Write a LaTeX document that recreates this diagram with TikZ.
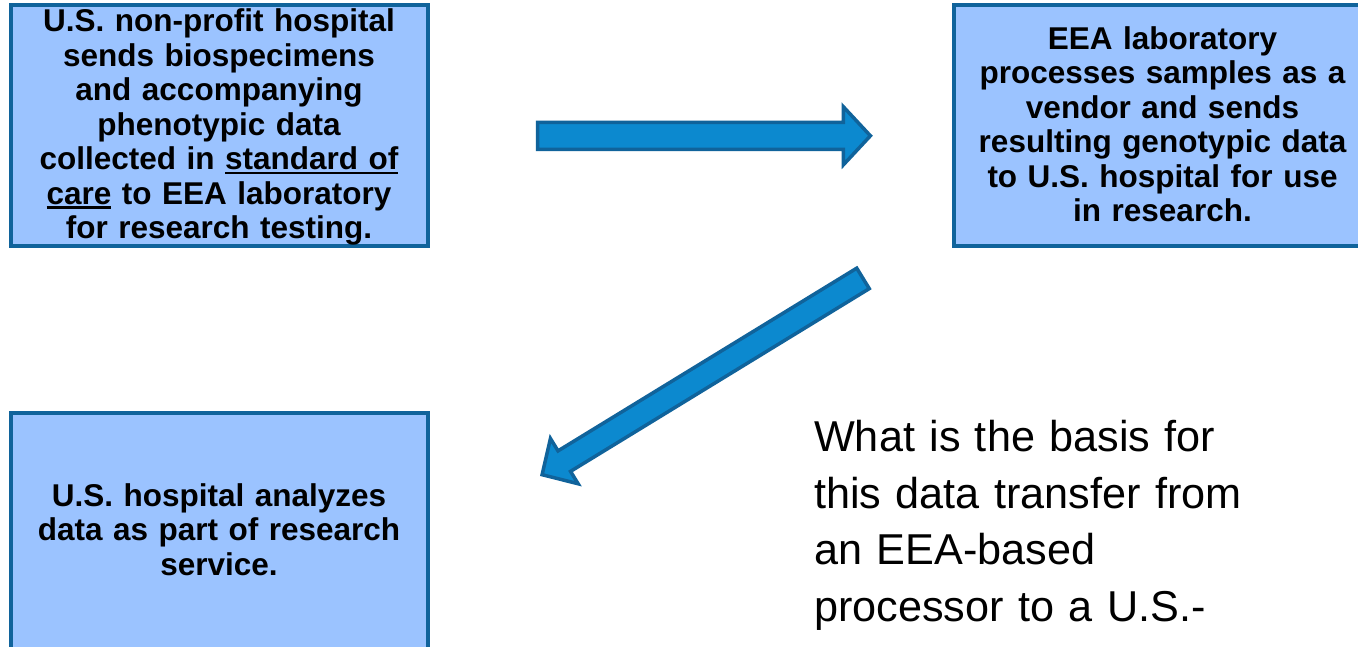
\documentclass[tikz,border=0pt]{standalone}
\usepackage{fontspec}
\setmainfont{Liberation Sans}
\usetikzlibrary{calc}
\definecolor{boxfill}{RGB}{155,195,255}
\definecolor{boxline}{RGB}{16,99,155}
\definecolor{arrowfill}{RGB}{12,137,207}
\newcommand\myul[1]{\leavevmode\setbox0\hbox{#1}\rlap{\rule[-4.5pt]{\wd0}{2.5pt}}\box0\relax}
\begin{document}
\begin{tikzpicture}[x=1pt,y=-1pt,
  box/.style={draw=boxline, line width=4pt, fill=boxfill, outer sep=0pt, inner sep=0pt, anchor=north west},
  boxtext/.style={font=\bfseries\fontsize{31.5}{34.5}\selectfont, align=center, text width=420pt, inner sep=0pt, anchor=base},
  qtext/.style={font=\fontsize{43.2}{56.6}\selectfont, align=left, text width=540pt, inner sep=0pt, anchor=base west},
  blockarrow/.style={draw=boxline, line width=3.5pt, fill=arrowfill, line join=miter}]
\clip (0,0) rectangle (1358,647);
\fill[white] (0,0) rectangle (1358,647);
% boxes
\node[box, minimum width=416.7pt, minimum height=241.8pt] (hosp) at (10.8,4.7) {};
\node[box, minimum width=418pt, minimum height=241.6pt] (lab) at (953.5,4.7) {};
\node[box, minimum width=416.7pt, minimum height=260pt] (anal) at (10.8,413) {};
% texts
\node[boxtext] (hosptext) at (219,31.7) {U.S. non-profit hospital\\sends biospecimens\\and accompanying\\phenotypic data\\collected in \myul{standard of}\\\myul{care} to EEA laboratory\\for research testing.};
\node[boxtext] (labtext) at (1162.5,49.3) {EEA laboratory\\processes samples as a\\vendor and sends\\resulting genotypic data\\to U.S. hospital for use\\in research.};
\node[boxtext] (analtext) at (219,506) {U.S. hospital analyzes\\data as part of research\\service.};
\node[qtext] (question) at (814,451.7) {What is the basis for\\this data transfer from\\an EEA-based\\processor to a U.S.-};
% arrow 1
\coordinate (a1tail) at (537.5,135.8);
\coordinate (a1tip) at (870.4,135.8);
\coordinate (a1h) at ($(a1tip)!27pt!(a1tail)$);
\draw[blockarrow] ($(a1tail)!13.5pt!90:(a1tip)$) -- ($(a1h)!13.5pt!-90:(a1tail)$) -- ($(a1h)!29pt!-90:(a1tail)$) -- (a1tip) -- ($(a1h)!29pt!90:(a1tail)$) -- ($(a1h)!13.5pt!90:(a1tail)$) -- ($(a1tail)!13.5pt!-90:(a1tip)$) -- cycle;
% arrow 2
\coordinate (a2tail) at (863.0,278.4);
\coordinate (a2tip) at (542.1,474.7);
\coordinate (a2h) at ($(a2tip)!26pt!(a2tail)$);
\draw[blockarrow] ($(a2tail)!12pt!90:(a2tip)$) -- ($(a2h)!12pt!-90:(a2tail)$) -- ($(a2h)!26.5pt!-90:(a2tail)$) -- (a2tip) -- ($(a2h)!26.5pt!90:(a2tail)$) -- ($(a2h)!12pt!90:(a2tail)$) -- ($(a2tail)!12pt!-90:(a2tip)$) -- cycle;
\end{tikzpicture}
\end{document}
